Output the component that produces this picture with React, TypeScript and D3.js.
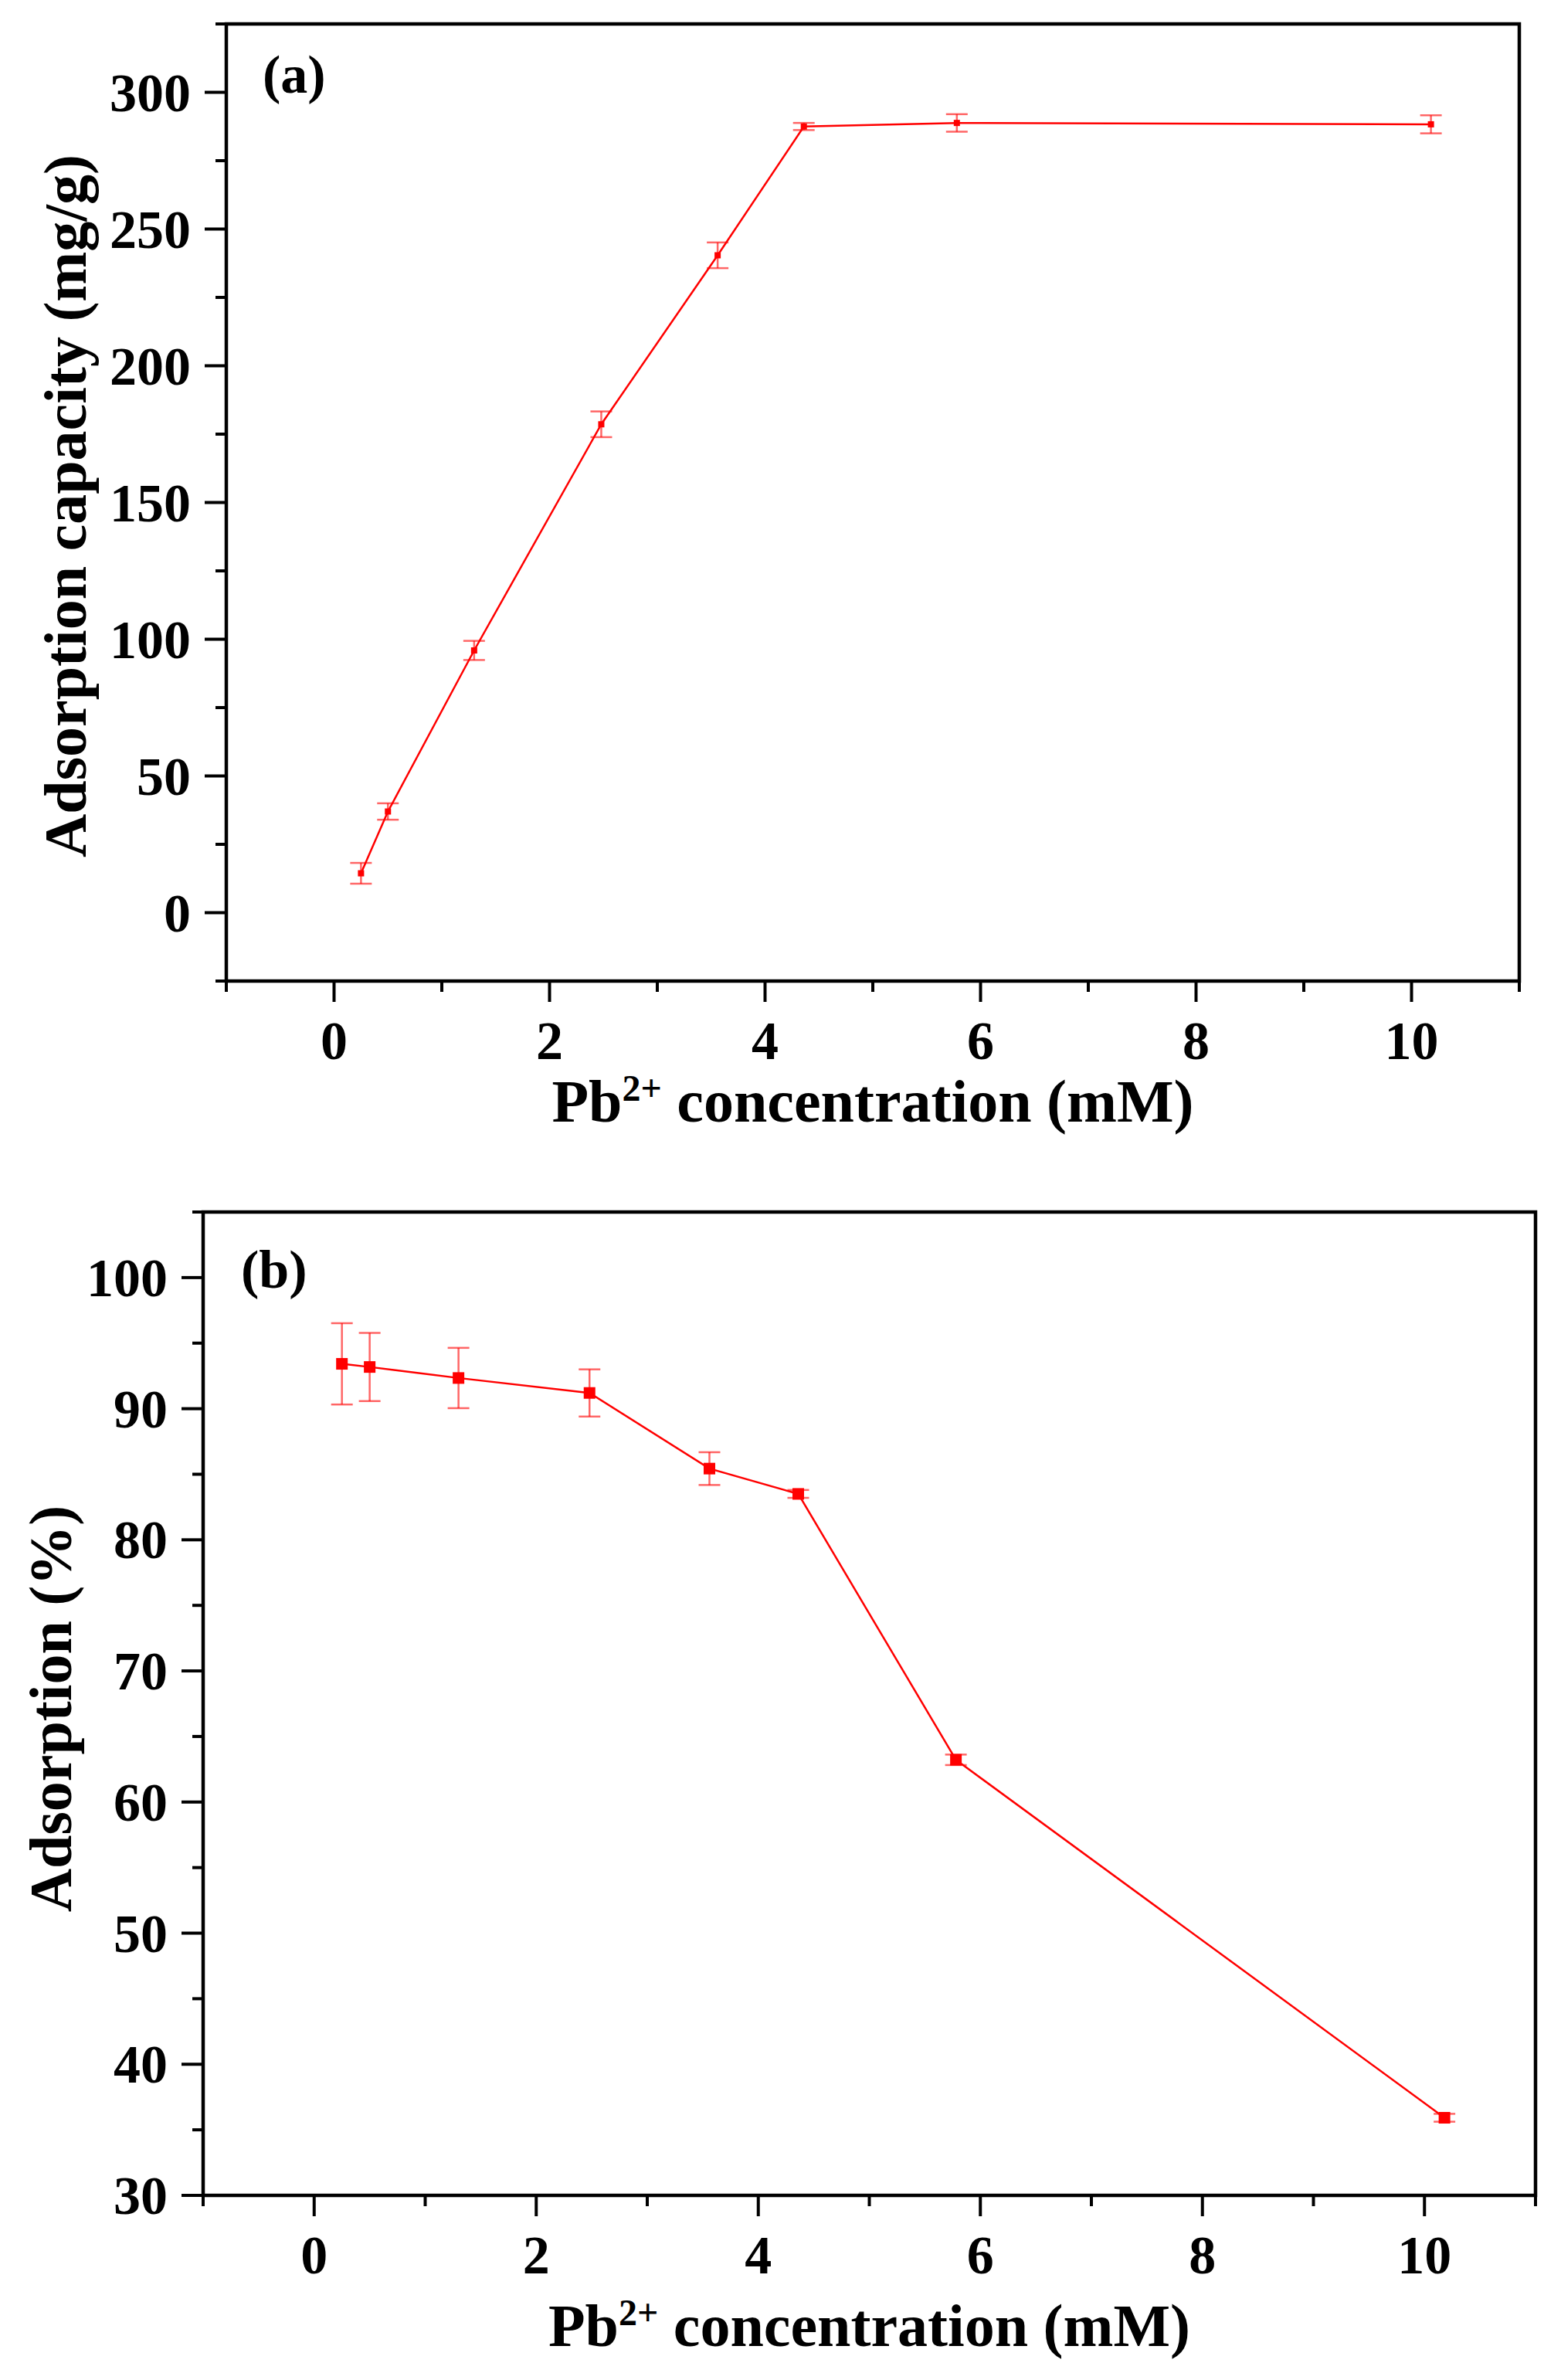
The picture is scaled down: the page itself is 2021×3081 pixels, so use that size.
import React from "react";
import * as d3 from "d3";

const concentrations = [0.25, 0.5, 1.3, 2.48, 3.56, 4.36, 5.78, 10.18];
const capacityValues = [14.4, 37.0, 95.9, 178.6, 240.4, 287.5, 288.8, 288.3];
const capacityErrors = [3.8, 3.0, 3.5, 4.7, 4.7, 1.3, 3.2, 3.3];
const adsorptionValues = [93.42, 93.18, 92.34, 91.2, 85.43, 83.5, 63.22, 35.92];
const adsorptionErrors = [3.1, 2.6, 2.3, 1.8, 1.25, 0.3, 0.4, 0.3];

const xTicks = [0, 2, 4, 6, 8, 10];
const xMinorTicks = [-1, 1, 3, 5, 7, 9, 11];
const capTicks = [0, 50, 100, 150, 200, 250, 300];
const capMinorTicks = [-25, 25, 75, 125, 175, 225, 275, 325];
const adsTicks = [30, 40, 50, 60, 70, 80, 90, 100];
const adsMinorTicks = [35, 45, 55, 65, 75, 85, 95, 105];

const FONT = "'Liberation Serif', 'Times New Roman', serif";

type PanelProps = {
  left: number; right: number; top: number; bottom: number;
  yDomain: [number, number];
  values: number[]; errors: number[];
  yTicks: number[]; yMinor: number[];
  yTitle: string; yTitleX: number; yTitleY: number;
  tag: string; tagX: number; tagY: number;
  xTitleDy: number; markerSize: number;
};

function Panel(p: PanelProps) {
  const x = d3.scaleLinear().domain([-1, 11]).range([p.left, p.right]);
  const y = d3.scaleLinear().domain(p.yDomain).range([p.bottom, p.top]);
  const data = concentrations.map((c, i) => ({ c, v: p.values[i], e: p.errors[i] }));
  const line = d3.line<{ c: number; v: number }>().x(d => x(d.c)).y(d => y(d.v));
  const red = "#ff0000";
  const axisW = 4.5;
  const cx = (p.left + p.right) / 2;
  return (
    <g>
      {/* frame */}
      <rect x={p.left} y={p.top} width={p.right - p.left} height={p.bottom - p.top}
        fill="none" stroke="#000" strokeWidth={axisW} />
      {/* y ticks */}
      {p.yTicks.map(t => (
        <g key={"yt" + t}>
          <line x1={p.left - 28} x2={p.left} y1={y(t)} y2={y(t)} stroke="#000" strokeWidth={4} />
          <text x={p.left - 46} y={y(t) + 24} textAnchor="end" fontFamily={FONT}
            fontWeight="bold" fontSize={70}>{t}</text>
        </g>
      ))}
      {p.yMinor.map(t => (
        <line key={"ym" + t} x1={p.left - 14} x2={p.left} y1={y(t)} y2={y(t)} stroke="#000" strokeWidth={4} />
      ))}
      {/* x ticks */}
      {xTicks.map(t => (
        <g key={"xt" + t}>
          <line x1={x(t)} x2={x(t)} y1={p.bottom} y2={p.bottom + 27} stroke="#000" strokeWidth={4} />
          <text x={x(t)} y={p.bottom + 101} textAnchor="middle" fontFamily={FONT}
            fontWeight="bold" fontSize={70}>{t}</text>
        </g>
      ))}
      {xMinorTicks.map(t => (
        <line key={"xm" + t} x1={x(t)} x2={x(t)} y1={p.bottom} y2={p.bottom + 14} stroke="#000" strokeWidth={4} />
      ))}
      {/* titles */}
      <text x={cx} y={p.bottom + p.xTitleDy} textAnchor="middle" fontFamily={FONT}
        fontWeight="bold" fontSize={78}>
        Pb<tspan fontSize={48} dy={-27}>2+</tspan><tspan dy={27}> concentration (mM)</tspan>
      </text>
      <text transform={`translate(${p.yTitleX},${p.yTitleY}) rotate(-90)`} textAnchor="middle"
        fontFamily={FONT} fontWeight="bold" fontSize={78}>{p.yTitle}</text>
      <text x={p.tagX} y={p.tagY} fontFamily={FONT} fontWeight="bold" fontSize={70}>{p.tag}</text>
      {/* data line */}
      <path d={line(data) || ""} fill="none" stroke={red} strokeWidth={2.5} />
      {/* error bars */}
      {data.map((d, i) => (
        <g key={"e" + i} stroke={red} strokeOpacity={0.6} strokeWidth={2.5}>
          <line x1={x(d.c)} x2={x(d.c)} y1={y(d.v - d.e)} y2={y(d.v + d.e)} />
          <line x1={x(d.c) - 14} x2={x(d.c) + 14} y1={y(d.v - d.e)} y2={y(d.v - d.e)} />
          <line x1={x(d.c) - 14} x2={x(d.c) + 14} y1={y(d.v + d.e)} y2={y(d.v + d.e)} />
        </g>
      ))}
      {/* markers */}
      {data.map((d, i) => (
        <rect key={"m" + i} x={x(d.c) - p.markerSize / 2} y={y(d.v) - p.markerSize / 2}
          width={p.markerSize} height={p.markerSize} fill={red} />
      ))}
    </g>
  );
}

export default function App() {
  return (
    <svg width={2021} height={3081} style={{ position: "absolute", left: 0, top: 0, background: "#fff" }}>
      <rect x={0} y={0} width={2021} height={3081} fill="#fff" />
      <Panel left={293} right={1967} top={31} bottom={1270} yDomain={[-25, 325]}
        values={capacityValues} errors={capacityErrors}
        yTicks={capTicks} yMinor={capMinorTicks}
        yTitle="Adsorption capacity (mg/g)" yTitleX={111} yTitleY={655}
        tag="(a)" tagX={340} tagY={120} xTitleDy={182} markerSize={8} />
      <Panel left={263} right={1988} top={1569} bottom={2842} yDomain={[30, 105]}
        values={adsorptionValues} errors={adsorptionErrors}
        yTicks={adsTicks} yMinor={adsMinorTicks}
        yTitle="Adsorption (%)" yTitleX={92} yTitleY={2212}
        tag="(b)" tagX={312} tagY={1667} xTitleDy={195} markerSize={15} />
    </svg>
  );
}
